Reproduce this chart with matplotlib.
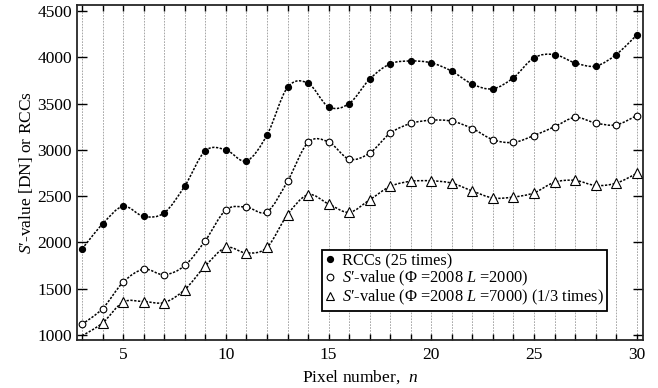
import numpy as np
import matplotlib
matplotlib.use('Agg')
from matplotlib import pyplot
from matplotlib.path import Path
from matplotlib.patches import PathPatch
from matplotlib.lines import Line2D
from matplotlib.ticker import MultipleLocator

pyplot.rcParams.update({
    'font.family': 'Liberation Serif',
    'mathtext.fontset': 'custom',
    'mathtext.rm': 'Liberation Serif',
    'mathtext.it': 'Liberation Serif:italic',
    'font.size': 12.5,
})

pixel = np.arange(3, 31)
rcc = [1930, 2200, 2390, 2280, 2320, 2610, 2990, 3000, 2880, 3160,
       3675, 3720, 3465, 3500, 3765, 3930, 3960, 3940, 3850, 3710,
       3660, 3780, 3995, 4030, 3940, 3905, 4030, 4240]
s_2000 = [1115, 1285, 1570, 1710, 1650, 1750, 2020, 2350, 2380, 2330,
          2660, 3080, 3085, 2900, 2965, 3180, 3285, 3320, 3310, 3230,
          3110, 3080, 3155, 3250, 3350, 3290, 3270, 3370]
s_7000 = [990, 1130, 1355, 1360, 1350, 1490, 1745, 1945, 1885, 1945,
          2300, 2515, 2415, 2325, 2460, 2605, 2660, 2665, 2640, 2555,
          2480, 2490, 2535, 2650, 2670, 2615, 2640, 2745]

labels = ['RCCs (25 times)',
          "$S$\u2032-value (\u03a6 =2008 $L$ =2000)",
          "$S$\u2032-value (\u03a6 =2008 $L$ =7000) (1/3 times)"]


def smooth_path(x, y):
    # Catmull-Rom curve through the points, drawn as cubic beziers
    p = np.column_stack([x, y]).astype(float)
    ext = np.vstack([p[0], p, p[-1]])
    verts = [p[0]]
    codes = [Path.MOVETO]
    for i in range(len(p) - 1):
        p0, p1, p2, p3 = ext[i], ext[i + 1], ext[i + 2], ext[i + 3]
        verts += [p1 + (p2 - p0) / 6.0, p2 - (p3 - p1) / 6.0, p2]
        codes += [Path.CURVE4] * 3
    return Path(verts, codes)


fig = pyplot.figure(figsize=(6.58, 3.88), dpi=100)
ax = fig.add_axes([0.117, 0.124, 0.86, 0.863])

line_style = dict(facecolor='none', edgecolor='black', linewidth=1.1,
                  linestyle=(0, (1.5, 1.0)), zorder=2)
for series in (rcc, s_2000, s_7000):
    ax.add_patch(PathPatch(smooth_path(pixel, series), **line_style))

ax.plot(pixel, rcc, 'o', color='black', markersize=4.2, zorder=3)
ax.plot(pixel, s_2000, 'o', markerfacecolor='white', markeredgecolor='black',
        markeredgewidth=0.8, markersize=4.8, zorder=3)
ax.plot(pixel[1:], s_7000[1:], '^', markerfacecolor='white',
        markeredgecolor='black', markeredgewidth=0.8, markersize=7.5, zorder=3)

ax.set_xlim(2.75, 30.3)
ax.set_ylim(946, 4565)
ax.xaxis.set_major_locator(MultipleLocator(5))
ax.xaxis.set_minor_locator(MultipleLocator(1))
ax.yaxis.set_major_locator(MultipleLocator(500))
ax.tick_params(axis='x', which='both', direction='in', top=True, length=4,
               width=1.0, labelsize=12.5, pad=5)
ax.tick_params(axis='y', which='major', direction='in', right=True, length=7,
               width=1.0, labelsize=12.5)
ax.grid(axis='x', which='both', color='0.6', linestyle=(0, (2, 1.5)),
        linewidth=0.6)
ax.set_axisbelow(True)
for sp in ax.spines.values():
    sp.set_linewidth(1.3)
    sp.set_color('0.15')

ax.set_xlabel('Pixel number,  $n$', fontsize=12.5, labelpad=4)
ax.set_ylabel("$S$\u2032-value [DN] or RCCs", fontsize=12.5, labelpad=2)

handles = [
    Line2D([], [], linestyle='none', marker='o', color='black', markersize=4.2),
    Line2D([], [], linestyle='none', marker='o', markerfacecolor='white',
           markeredgecolor='black', markeredgewidth=0.8, markersize=4.8),
    Line2D([], [], linestyle='none', marker='^', markerfacecolor='white',
           markeredgecolor='black', markeredgewidth=0.8, markersize=5.5),
]
leg = ax.legend(handles, labels, loc='lower left', bbox_to_anchor=(0.433, 0.087),
                borderaxespad=0, fancybox=False, framealpha=1, edgecolor='black',
                fontsize=11.8, handlelength=0.6, handletextpad=0.4,
                labelspacing=0.0, borderpad=0.2)
leg.get_frame().set_linewidth(1.3)
leg.set_zorder(5)

fig.savefig('out.png', dpi=100)
